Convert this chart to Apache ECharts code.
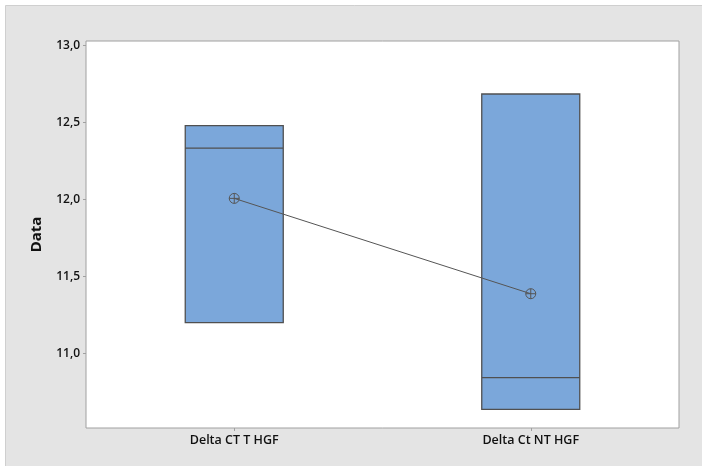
<!DOCTYPE html>
<html>
<head>
<meta charset="utf-8">
<script src="https://cdn.jsdelivr.net/npm/echarts@6/dist/echarts.min.js"></script>
<style>
  html, body { margin: 0; padding: 0; background: #fff; }
  #chart { width: 702px; height: 466px; }
</style>
</head>
<body>
<div id="chart"></div>
<script>
// groups on the x axis
const categories = ['Delta CT T HGF', 'Delta Ct NT HGF'];
// box stats: [Q1, median, Q3] (no whiskers drawn in the original)
const q1 = [11.199, 10.636];
const median = [12.333, 10.842];
const q3 = [12.478, 12.684];
// group means, joined by a line
const means = [12.006, 11.387];
// y tick labels
const yTicks = [11.0, 11.5, 12.0, 12.5, 13.0];

const fontFamily = '"Open Sans", "Noto Sans", sans-serif';

const chart = echarts.init(document.getElementById('chart'), null, { renderer: 'canvas' });

const option = {
  backgroundColor: '#fff',
  animation: false,
  graphic: [
    {
      type: 'rect',
      z: -10,
      silent: true,
      shape: { x: 5.5, y: 5.5, width: 710, height: 470 },
      style: { fill: '#e4e4e4', stroke: '#cfcfcf', lineWidth: 1 }
    }
  ],
  grid: {
    left: 86, top: 41, right: 23, bottom: 38,
    show: true,
    backgroundColor: '#fff',
    borderColor: '#a0a0a0',
    borderWidth: 1
  },
  xAxis: {
    type: 'category',
    data: categories,
    boundaryGap: true,
    axisLine: { show: false },
    axisTick: { show: true, alignWithLabel: true, length: 3, lineStyle: { color: '#a0a0a0' } },
    axisLabel: { color: '#111', fontFamily, fontWeight: 600, fontSize: 12.5, margin: 6 },
    splitLine: { show: false }
  },
  yAxis: {
    type: 'value',
    min: 10.515,
    max: 13.028,
    name: 'Data',
    nameLocation: 'middle',
    nameGap: 42,
    nameRotate: 90,
    nameTextStyle: { color: '#111', fontFamily, fontWeight: 'bold', fontSize: 15 },
    axisLine: { show: false },
    axisTick: { show: true, length: 3, customValues: yTicks, lineStyle: { color: '#a0a0a0' } },
    axisLabel: {
      customValues: yTicks,
      color: '#111', fontFamily, fontWeight: 600, fontSize: 12, margin: 6,
      formatter: v => v.toFixed(1).replace('.', ',')
    },
    splitLine: { show: false }
  },
  series: [
    {
      type: 'boxplot',
      boxWidth: [98, 98],
      itemStyle: { color: '#7ba7da', borderColor: '#505050', borderWidth: 1.3 },
      data: categories.map((c, i) => [q1[i], q1[i], median[i], q3[i], q3[i]])
    },
    {
      type: 'line',
      data: means,
      symbol: 'path://M0,-10A10,10 0 1 1 0,10A10,10 0 1 1 0,-10ZM-10,0L10,0M0,-10L0,10',
      symbolSize: 10,
      showSymbol: true,
      itemStyle: { color: 'rgba(0,0,0,0)', borderColor: '#555', borderWidth: 1 },
      lineStyle: { color: '#555', width: 1 },
      z: 5
    }
  ]
};

chart.setOption(option);
</script>
</body>
</html>
